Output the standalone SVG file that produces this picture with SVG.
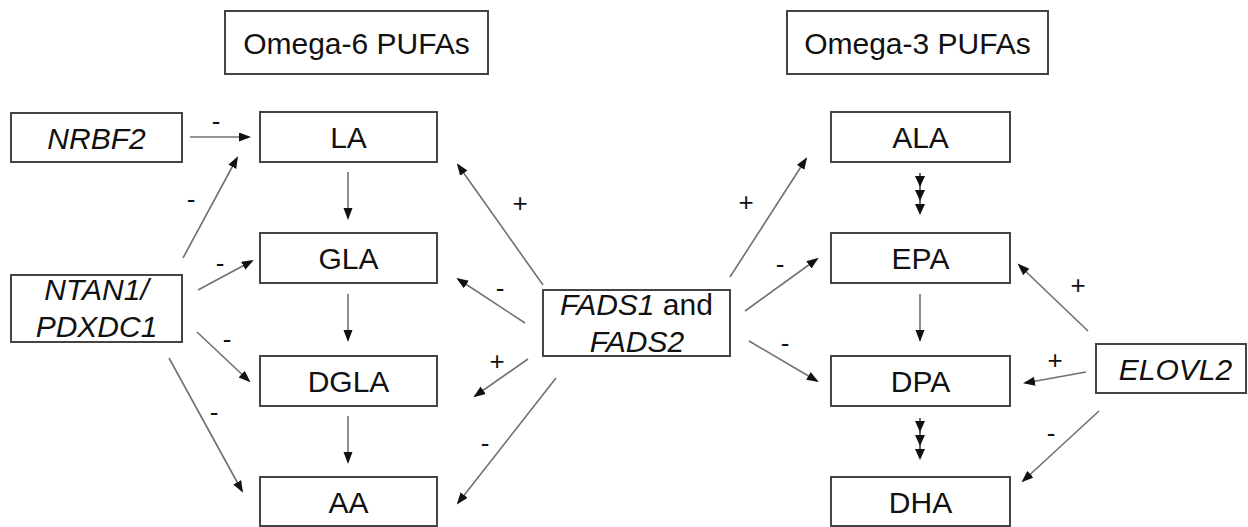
<svg xmlns="http://www.w3.org/2000/svg" width="1248" height="527" viewBox="0 0 1248 527">
<style>
.box{fill:#fff;stroke:#444;stroke-width:2}
.t{font-family:"Liberation Sans",Arial,sans-serif;font-size:30px;fill:#111;text-anchor:middle}
.i{font-style:italic}
.lbl{font-family:"Liberation Sans",Arial,sans-serif;font-size:26px;fill:#111;text-anchor:middle;dominant-baseline:central}
.c{stroke:#707070;stroke-width:1.6;fill:none;marker-end:url(#ah)}
.s{stroke:#444;stroke-width:1.6;fill:none}
.head{fill:#111}
</style>
<defs>
<marker id="ah" markerUnits="userSpaceOnUse" markerWidth="13" markerHeight="10" refX="10" refY="4.5" orient="auto">
<path d="M0,0 L12,4.5 L0,9 z" fill="#111"/>
</marker>
</defs>
<rect width="1248" height="527" fill="#fff"/>

<g id="omega6"><rect class="box" x="225" y="11" width="263" height="63"/><text class="t" x="356.5" y="54">Omega-6 PUFAs</text></g>
<g id="omega3"><rect class="box" x="787" y="11" width="261" height="63"/><text class="t" x="917.5" y="54">Omega-3 PUFAs</text></g>
<g id="NRBF2"><rect class="box" x="11" y="113" width="171" height="49"/><text class="t i" x="96.5" y="149">NRBF2</text></g>
<g id="NTAN1"><rect class="box" x="11" y="275" width="171" height="67"/><text class="t i" x="96.5" y="300">NTAN1/</text><text class="t i" x="96.5" y="337">PDXDC1</text></g>
<g id="LA"><rect class="box" x="260" y="112" width="177" height="50"/><text class="t" x="348.5" y="148">LA</text></g>
<g id="GLA"><rect class="box" x="260" y="233" width="177" height="50"/><text class="t" x="348.5" y="269">GLA</text></g>
<g id="DGLA"><rect class="box" x="260" y="356" width="177" height="50"/><text class="t" x="348.5" y="392">DGLA</text></g>
<g id="AA"><rect class="box" x="260" y="477" width="177" height="49"/><text class="t" x="348.5" y="513">AA</text></g>
<g id="FADS"><rect class="box" x="543" y="290" width="187" height="66"/><text class="t" x="636.5" y="315"><tspan class="i">FADS1</tspan> and</text><text class="t i" x="637" y="352">FADS2</text></g>
<g id="ALA"><rect class="box" x="831" y="112" width="179" height="50"/><text class="t" x="920.5" y="148">ALA</text></g>
<g id="EPA"><rect class="box" x="831" y="233" width="179" height="50"/><text class="t" x="920.5" y="269">EPA</text></g>
<g id="DPA"><rect class="box" x="831" y="356" width="179" height="50"/><text class="t" x="920.5" y="392">DPA</text></g>
<g id="DHA"><rect class="box" x="831" y="477" width="179" height="49"/><text class="t" x="920.5" y="513">DHA</text></g>
<g id="ELOVL2"><rect class="box" x="1096" y="344" width="150" height="49"/><text class="t i" x="1175.5" y="380">ELOVL2</text></g>

<g id="connectors">
<line class="c" x1="190" y1="137" x2="249" y2="137"/>
<line class="c" x1="183" y1="258" x2="237" y2="158"/>
<line class="c" x1="198" y1="290" x2="252" y2="261"/>
<line class="c" x1="197" y1="332" x2="249" y2="381"/>
<line class="c" x1="169" y1="358" x2="242" y2="491"/>
<line class="c" x1="543" y1="285" x2="458" y2="165"/>
<line class="c" x1="525" y1="323" x2="458" y2="279"/>
<line class="c" x1="528" y1="359" x2="475" y2="396"/>
<line class="c" x1="556" y1="378" x2="458" y2="503"/>
<line class="c" x1="730" y1="277" x2="806" y2="159"/>
<line class="c" x1="745" y1="311" x2="817" y2="259"/>
<line class="c" x1="749" y1="341" x2="817" y2="381"/>
<line class="c" x1="1088" y1="331" x2="1019" y2="265"/>
<line class="c" x1="1086" y1="372" x2="1025" y2="383"/>
<line class="c" x1="1099" y1="411" x2="1023" y2="481"/>
<line class="c" x1="348" y1="172" x2="348" y2="218"/>
<line class="c" x1="348" y1="294" x2="348" y2="340"/>
<line class="c" x1="348" y1="416" x2="348" y2="462"/>
<line class="c" x1="920" y1="294" x2="920" y2="340"/>
<line class="s" x1="920" y1="173" x2="920" y2="210"/>
<polygon class="head" points="915,176 925,176 920,187"/>
<polygon class="head" points="915,190 925,190 920,201"/>
<polygon class="head" points="915,204 925,204 920,215"/>
<line class="s" x1="920" y1="418" x2="920" y2="455"/>
<polygon class="head" points="915,421 925,421 920,432"/>
<polygon class="head" points="915,435 925,435 920,446"/>
<polygon class="head" points="915,449 925,449 920,460"/>
</g>

<g id="labels">
<text class="lbl" x="216" y="121">-</text>
<text class="lbl" x="191" y="199">-</text>
<text class="lbl" x="220" y="263">-</text>
<text class="lbl" x="227" y="339">-</text>
<text class="lbl" x="214" y="412">-</text>
<text class="lbl" x="520" y="203">+</text>
<text class="lbl" x="500" y="288">-</text>
<text class="lbl" x="497" y="361">+</text>
<text class="lbl" x="485" y="443">-</text>
<text class="lbl" x="746" y="202">+</text>
<text class="lbl" x="780" y="264">-</text>
<text class="lbl" x="785" y="343">-</text>
<text class="lbl" x="1078" y="285">+</text>
<text class="lbl" x="1055" y="360">+</text>
<text class="lbl" x="1051" y="433">-</text>
</g>
</svg>
